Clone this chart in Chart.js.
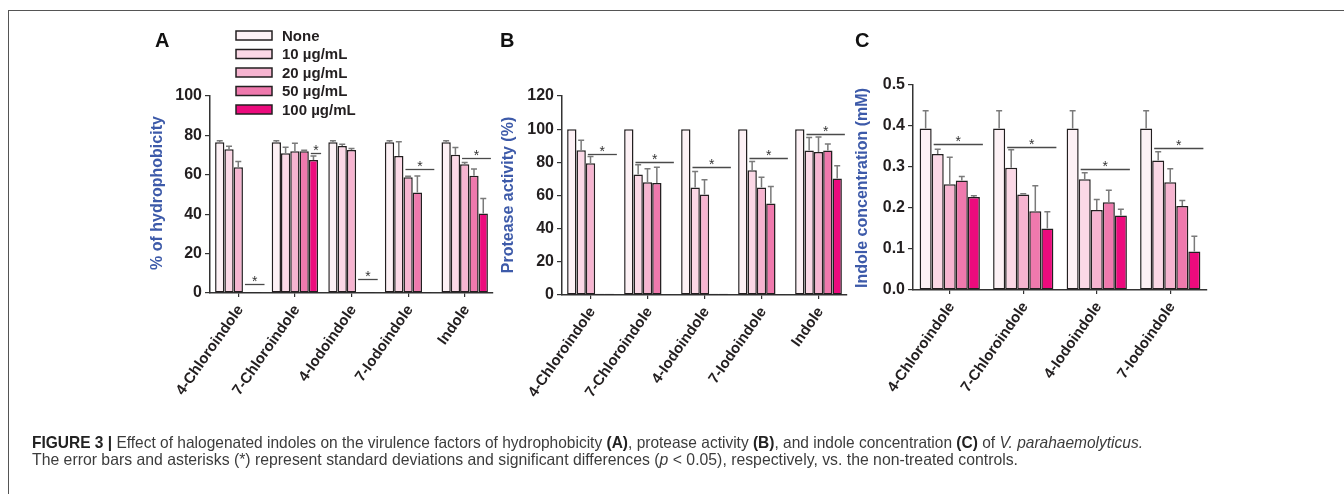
<!DOCTYPE html>
<html>
<head>
<meta charset="utf-8">
<script src="https://cdn.jsdelivr.net/npm/chart.js@4.4.1/dist/chart.umd.min.js"></script>
<style>
  body { margin: 0; background: #fff; width: 1344px; height: 494px; overflow: hidden; position: relative; }
  canvas { position: absolute; left: 0; top: 0; }
  .cap { position: absolute; left: 32px; white-space: nowrap; font-family: 'Liberation Sans Narrow', 'Liberation Sans', sans-serif; font-size: 16.5px; color: #3c3c3c; transform-origin: 0 0; }
  .cap b { color: #222; }
  #frameL { position: absolute; left: 8px; top: 10px; width: 1px; height: 484px; background: #555; }
  #frameT { position: absolute; left: 8px; top: 10px; width: 1336px; height: 1px; background: #555; }
</style>
</head>
<body>
<div id="frameL"></div>
<div id="frameT"></div>
<canvas id="cA" width="1344" height="494"></canvas>
<canvas id="cB" width="1344" height="494"></canvas>
<canvas id="cC" width="1344" height="494"></canvas>
<div class="cap" id="cap1" style="top:433px"><b>FIGURE 3 |</b> Effect of halogenated indoles on the virulence factors of hydrophobicity <b>(A)</b>, protease activity <b>(B)</b>, and indole concentration <b>(C)</b> of <i>V. parahaemolyticus.</i></div>
<div class="cap" id="cap2" style="top:450px">The error bars and asterisks (*) represent standard deviations and significant differences (<i>p</i> &lt; 0.05), respectively, vs. the non-treated controls.</div>
<script>
// categories and series
const catsAB = ['4-Chloroindole', '7-Chloroindole', '4-Iodoindole', '7-Iodoindole', 'Indole'];
const catsC = ['4-Chloroindole', '7-Chloroindole', '4-Iodoindole', '7-Iodoindole'];
const seriesNames = ['None', '10 µg/mL', '20 µg/mL', '50 µg/mL', '100 µg/mL'];
const colors = ['#fdf1f5', '#fbd8e6', '#f6b4d0', '#ef79ad', '#ec0b7d'];

// A: % of hydrophobicity (mean), and mean + sd
const hydroNone = [76.5, 76.5, 76.5, 76.5, 76.5];
const hydro10 = [73, 71, 74.6, 69.5, 70.2];
const hydro20 = [63.8, 72, 72.6, 58.7, 65.3];
const hydro50 = [0.5, 72, 0.5, 51, 59.5];
const hydro100 = [0.5, 67.5, 0.5, 0.5, 40.3];
const hydroErrNone = [77.3, 77.3, 77.3, 77.3, 77.3];
const hydroErr10 = [74.5, 74, 75.5, 76.8, 73.8];
const hydroErr20 = [66.8, 76, 73.3, 59.3, 66.3];
const hydroErr50 = [0.5, 72.5, 0.5, 59.4, 63];
const hydroErr100 = [0.5, 69.5, 0.5, 0.5, 48];
// [category, height, first bar, last bar]
const hydroSig = [[0, 4.5, 3, 4], [1, 71.2, 4, 4], [2, 7.3, 3, 4], [3, 62.8, 2, 4], [4, 68.7, 2, 4]];

// B: protease activity (%)
const protNone = [100, 100, 100, 100, 100];
const prot10 = [87.3, 72.7, 64.8, 75.3, 87.2];
const prot20 = [79.5, 68, 60.6, 64.8, 86.2];
const prot50 = [0.8, 67.5, 0.8, 55.2, 87.2];
const prot100 = [0.8, 0.5, 0.8, 0.5, 70.3];
const protErrNone = [100, 100, 100, 100, 100];
const protErr10 = [93.3, 78.5, 74.5, 80.5, 95];
const protErr20 = [83.5, 76.2, 69.5, 71, 95.3];
const protErr50 = [0.8, 77, 0.8, 65.5, 91];
const protErr100 = [0.8, 0.5, 0.8, 0.5, 78];
const protSig = [[0, 85, 2, 4], [1, 80.5, 1, 4], [2, 76.9, 1, 4], [3, 82.5, 1, 4], [4, 97.3, 1, 4]];

// C: indole concentration (mM)
const indNone = [0.394, 0.394, 0.394, 0.394];
const ind10 = [0.332, 0.298, 0.270, 0.316];
const ind20 = [0.258, 0.233, 0.195, 0.263];
const ind50 = [0.267, 0.192, 0.214, 0.205];
const ind100 = [0.227, 0.150, 0.182, 0.094];
const indErrNone = [0.437, 0.437, 0.437, 0.437];
const indErr10 = [0.343, 0.342, 0.286, 0.337];
const indErr20 = [0.324, 0.235, 0.221, 0.296];
const indErr50 = [0.277, 0.254, 0.243, 0.218];
const indErr100 = [0.230, 0.191, 0.197, 0.131];
const indSig = [[0, 0.355, 1, 4], [1, 0.350, 1, 4], [2, 0.294, 1, 4], [3, 0.346, 1, 4]];

const dark = '#231f20';
const titleBlue = '#3d5aa9';
const deg = Math.PI / 180;

function drawExtras(chart, opts) {
    const ctx = chart.ctx;
    const xs = chart.scales.x, ys = chart.scales.y;
    const area = chart.chartArea;
    ctx.save();

    // error bars
    ctx.strokeStyle = '#7a7a7a';
    ctx.lineWidth = 1.5;
    opts.errs.forEach((errRow, i) => {
        const meta = chart.getDatasetMeta(i);
        errRow.forEach((e, j) => {
            const bar = meta.data[j];
            const yTop = ys.getPixelForValue(e);
            if (bar.y - yTop < 0.5) return;
            ctx.beginPath();
            ctx.moveTo(bar.x, bar.y);
            ctx.lineTo(bar.x, yTop);
            ctx.moveTo(bar.x - 3, yTop);
            ctx.lineTo(bar.x + 3, yTop);
            ctx.stroke();
        });
    });

    // significance lines and stars
    opts.sig.forEach(s => {
        const b0 = chart.getDatasetMeta(s[2]).data[s[0]];
        const b1 = chart.getDatasetMeta(s[3]).data[s[0]];
        const x0 = b0.x - b0.width / 2 + 2;
        const x1 = b1.x + b1.width / 2 + 3;
        const y = Math.round(ys.getPixelForValue(s[1])) + 0.5;
        ctx.strokeStyle = '#4a4a4a';
        ctx.lineWidth = 1.3;
        ctx.beginPath();
        ctx.moveTo(x0, y);
        ctx.lineTo(x1, y);
        ctx.stroke();
        ctx.fillStyle = '#333';
        ctx.font = '14px "Liberation Sans", Arial, sans-serif';
        ctx.textAlign = 'center';
        ctx.textBaseline = 'alphabetic';
        ctx.fillText('*', (x0 + x1) / 2, y + 1);
    });

    // rotated category labels
    ctx.fillStyle = dark;
    ctx.font = 'bold 15px "Liberation Sans", Arial, sans-serif';
    ctx.textAlign = 'right';
    ctx.textBaseline = 'middle';
    chart.data.labels.forEach((lab, j) => {
        const x = xs.getPixelForValue(j);
        ctx.save();
        ctx.translate(x + 2, area.bottom + 14);
        ctx.rotate(-55 * deg);
        ctx.fillText(lab, 0, 0);
        ctx.restore();
    });

    // axis title
    ctx.save();
    ctx.fillStyle = titleBlue;
    ctx.font = 'bold 16px "Liberation Sans", Arial, sans-serif';
    ctx.textAlign = 'center';
    ctx.textBaseline = 'middle';
    ctx.translate(opts.titleX, opts.titleY);
    ctx.rotate(-90 * deg);
    ctx.fillText(opts.title, 0, 0);
    ctx.restore();

    // panel letter
    ctx.fillStyle = '#111';
    ctx.font = 'bold 20px "Liberation Sans", Arial, sans-serif';
    ctx.textAlign = 'left';
    ctx.textBaseline = 'alphabetic';
    ctx.fillText(opts.letter, opts.letterX, 47);

    // legend (panel A only)
    if (opts.legend) {
        chart.data.datasets.forEach((ds, i) => {
            const cy = 35.5 + i * 18.5;
            ctx.fillStyle = ds.backgroundColor;
            ctx.fillRect(236, cy - 4.5, 36, 9);
            ctx.strokeStyle = dark;
            ctx.lineWidth = 1.5;
            ctx.strokeRect(236, cy - 4.5, 36, 9);
            ctx.fillStyle = dark;
            ctx.font = 'bold 15px "Liberation Sans", Arial, sans-serif';
            ctx.textBaseline = 'middle';
            ctx.fillText(ds.label, 282, cy + 1);
        });
    }
    ctx.restore();
}

function makePanel(id, labels, vals, errs, sig, area, yMax, yStep, fmt, extra) {
    const yW = 60, xH = 10;
    return new Chart(document.getElementById(id), {
        type: 'bar',
        data: {
            labels: labels,
            datasets: vals.map((v, i) => ({
                label: seriesNames[i],
                data: v,
                backgroundColor: colors[i],
                borderColor: dark,
                borderWidth: 1.5,
                borderSkipped: false,
                barPercentage: 1,
                categoryPercentage: 0.82
            }))
        },
        options: {
            responsive: false,
            animation: false,
            events: [],
            layout: {
                padding: { left: area.l - yW, top: area.t, right: 1344 - area.r, bottom: 494 - area.b - xH }
            },
            plugins: { legend: { display: false }, tooltip: { enabled: false } },
            scales: {
                x: {
                    grid: { display: true, drawOnChartArea: false, offset: false, tickLength: 4, color: '#333', lineWidth: 1.2 },
                    border: { color: '#333', width: 1.5 },
                    ticks: { display: false },
                    afterFit: s => { s.height = xH; }
                },
                y: {
                    min: 0,
                    max: yMax,
                    grid: { drawOnChartArea: false, tickLength: 5, color: '#333', lineWidth: 1.2 },
                    border: { color: '#333', width: 1.5 },
                    ticks: {
                        stepSize: yStep,
                        padding: 3,
                        color: dark,
                        font: { family: '"Liberation Sans", Arial, sans-serif', size: 16, weight: 'bold' },
                        callback: fmt
                    },
                    afterFit: s => { s.width = yW; }
                }
            }
        },
        plugins: [{
            id: 'extras',
            afterDatasetsDraw: chart => drawExtras(chart, Object.assign({ errs: errs, sig: sig }, extra))
        }]
    });
}

makePanel('cA', catsAB,
    [hydroNone, hydro10, hydro20, hydro50, hydro100],
    [hydroErrNone, hydroErr10, hydroErr20, hydroErr50, hydroErr100],
    hydroSig, { l: 210, t: 96, r: 493, b: 293 }, 100, 20, v => v,
    { title: '% of hydrophobicity', titleX: 158, titleY: 193, letter: 'A', letterX: 155, legend: true });

makePanel('cB', catsAB,
    [protNone, prot10, prot20, prot50, prot100],
    [protErrNone, protErr10, protErr20, protErr50, protErr100],
    protSig, { l: 562, t: 96, r: 847, b: 295 }, 120, 20, v => v,
    { title: 'Protease activity (%)', titleX: 509, titleY: 195, letter: 'B', letterX: 500 });

makePanel('cC', catsC,
    [indNone, ind10, ind20, ind50, ind100],
    [indErrNone, indErr10, indErr20, indErr50, indErr100],
    indSig, { l: 913, t: 85, r: 1207, b: 290 }, 0.5, 0.1, v => v.toFixed(1),
    { title: 'Indole concentration (mM)', titleX: 863, titleY: 188, letter: 'C', letterX: 855 });

// stretch caption lines to the measured widths of the figure
function fitLine(id, w) {
    const el = document.getElementById(id);
    el.style.transform = 'scaleX(' + (w / el.getBoundingClientRect().width) + ')';
}
fitLine('cap1', 1111);
fitLine('cap2', 986);
</script>
</body>
</html>
